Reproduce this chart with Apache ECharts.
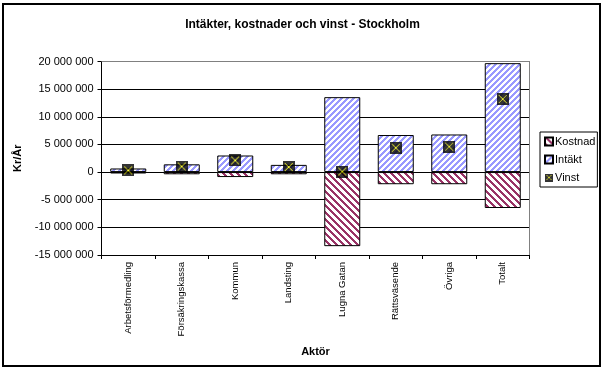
<!DOCTYPE html>
<html>
<head>
<meta charset="utf-8">
<script src="https://cdn.jsdelivr.net/npm/echarts@6/dist/echarts.min.js"></script>
<style>html,body{margin:0;padding:0;background:#fff}#c{width:605px;height:370px}</style>
</head>
<body>
<div id="c"></div>
<script>
const categories = ['Arbetsförmedling','Försäkringskassa','Kommun','Landsting','Lugna Gatan','Rättsväsende','Övriga','Totalt'];
const kostnad = [-250000, -400000, -900000, -400000, -13400000, -2200000, -2200000, -6500000];
const intakt = [650000, 1400000, 3000000, 1300000, 13550000, 6700000, 6800000, 19700000];
const vinst = [300000, 1000000, 2100000, 900000, 100000, 4400000, 4600000, 13200000];
const yTicks = {min: -15000000, max: 20000000, interval: 5000000};

const FONT = '"Liberation Sans", Arial, sans-serif';

function stripes(period, width, color, dir) {
  const c = document.createElement('canvas');
  c.width = period; c.height = period;
  const ctx = c.getContext('2d');
  ctx.fillStyle = '#fff'; ctx.fillRect(0, 0, period, period);
  ctx.fillStyle = color;
  for (let y = 0; y < period; y++) {
    for (let x = 0; x < period; x++) {
      const k = dir > 0 ? (x + y) : (x - y + period * 4);
      if (k % period < width) ctx.fillRect(x, y, 1, 1);
    }
  }
  return {image: c, repeat: 'repeat'};
}

function vinstSymbol() {
  const s = 12;
  const c = document.createElement('canvas');
  c.width = s; c.height = s;
  const ctx = c.getContext('2d');
  ctx.fillStyle = '#000'; ctx.fillRect(0, 0, s, s);
  ctx.fillStyle = '#ffff00';
  for (let i = 2; i <= s - 3; i++) {
    ctx.fillRect(i, i, 1, 1);
    ctx.fillRect(s - 1 - i, i, 1, 1);
  }
  return 'image://' + c.toDataURL();
}

function fmt(v) {
  const s = Math.abs(v).toString().replace(/\B(?=(\d{3})+(?!\d))/g, ' ');
  return (v < 0 ? '-' : '') + s;
}

const chart = echarts.init(document.getElementById('c'), null, {renderer: 'canvas'});
chart.setOption({
  animation: false,
  backgroundColor: '#fff',
  textStyle: {fontFamily: FONT},
  title: {
    text: 'Intäkter, kostnader och vinst - Stockholm',
    left: 'center', top: 14,
    textStyle: {fontSize: 12, fontWeight: 'bold', color: '#000', fontFamily: FONT}
  },
  graphic: [{
    type: 'rect', silent: true, z: -1,
    shape: {x: 3, y: 4, width: 597, height: 362},
    style: {fill: 'none', stroke: '#000', lineWidth: 2}
  }],
  legend: {
    orient: 'vertical', left: 540, top: 132,
    padding: [4, 2, 4, 4], itemGap: 7,
    borderColor: '#000', borderWidth: 1,
    itemWidth: 8, itemHeight: 8,
    data: [{name: 'Kostnad', icon: 'rect'}, {name: 'Intäkt', icon: 'rect'}, {name: 'Vinst'}],
    textStyle: {fontSize: 11, color: '#000', fontFamily: FONT, padding: [0, 0, 0, -3]}
  },
  grid: {left: 101.5, right: 75.5, top: 61.5, bottom: 115, containLabel: false},
  xAxis: [{
    type: 'category', data: categories, position: 'bottom',
    name: 'Aktör', nameLocation: 'middle', nameGap: 91,
    nameTextStyle: {fontSize: 11, fontWeight: 'bold', color: '#000', fontFamily: FONT},
    axisLine: {onZero: false, lineStyle: {color: '#000', width: 1}},
    axisTick: {show: true, length: 4, lineStyle: {color: '#000'}},
    axisLabel: {rotate: 90, fontSize: 9.5, color: '#000', margin: 7, interval: 0, fontFamily: FONT}
  }, {
    type: 'category', data: categories, position: 'top',
    axisLine: {onZero: false, lineStyle: {color: '#808080'}},
    axisTick: {show: false}, axisLabel: {show: false}
  }],
  yAxis: [{
    type: 'value', min: yTicks.min, max: yTicks.max, interval: yTicks.interval,
    name: 'Kr/År', nameLocation: 'middle', nameGap: 78,
    nameTextStyle: {fontSize: 11, fontWeight: 'bold', color: '#000', fontFamily: FONT},
    axisLine: {show: true, lineStyle: {color: '#000'}},
    axisTick: {show: true, length: 4, lineStyle: {color: '#000'}},
    axisLabel: {fontSize: 11, color: '#000', margin: 8, formatter: fmt, fontFamily: FONT},
    splitLine: {show: true, showMaxLine: false, lineStyle: {color: '#000', width: 1}}
  }, {
    type: 'value', min: yTicks.min, max: yTicks.max, interval: yTicks.interval, position: 'right',
    axisLine: {show: true, onZero: false, lineStyle: {color: '#808080'}},
    axisTick: {show: false}, axisLabel: {show: false}, splitLine: {show: false}
  }],
  series: [{
    name: 'Kostnad', type: 'bar', stack: 'a', data: kostnad, barWidth: 36,
    itemStyle: {color: stripes(7, 3, '#993366', -1), borderColor: '#000', borderWidth: 1}
  }, {
    name: 'Intäkt', type: 'bar', stack: 'a', data: intakt, barWidth: 36,
    itemStyle: {color: stripes(6, 3, '#9999ff', 1), borderColor: '#000', borderWidth: 1}
  }, {
    name: 'Vinst', type: 'scatter', data: vinst, symbol: vinstSymbol(), symbolSize: 12, z: 5,
    itemStyle: {color: '#000'}
  }]
});
</script>
</body>
</html>
